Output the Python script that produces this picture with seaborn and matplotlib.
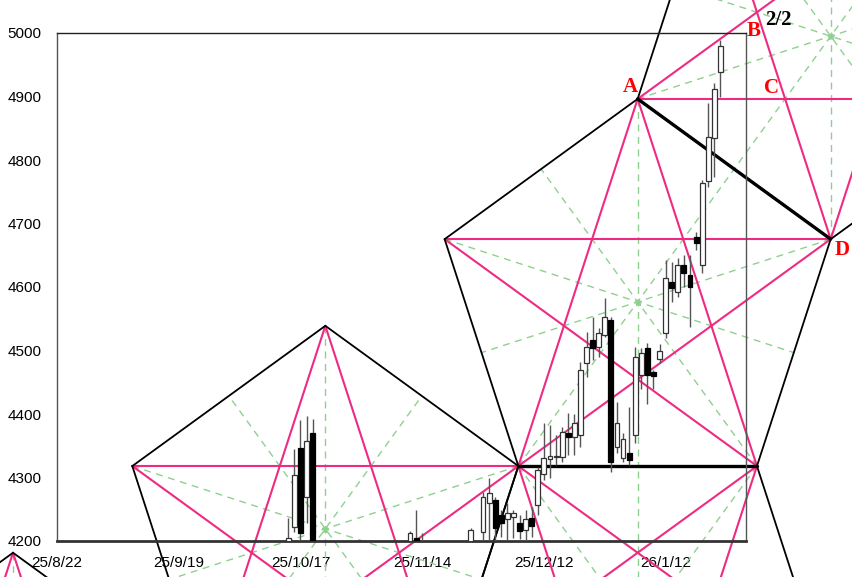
import numpy as np
import pandas as pd
import matplotlib
matplotlib.use("Agg")
import matplotlib.pyplot as plt
import seaborn as sns

# daily candles (bar index from 25/8/22), only the ones above 4200 show
bars   = [38, 39, 40, 41, 42, 58, 59, 60, 68, 70, 71, 72, 73, 74, 75, 76, 77, 78,
          79, 80, 81, 82, 83, 84, 85, 86, 87, 88, 89, 90, 91, 92, 93, 94, 95, 96,
          97, 98, 99, 100, 101, 102, 103, 104, 105, 106, 107, 108, 109]
opens  = [4198, 4222, 4346, 4269, 4370, 4195, 4205, 4195, 4198, 4214, 4260, 4265, 4241, 4235, 4238, 4228, 4217, 4236,
          4257, 4305, 4329, 4332, 4333, 4370, 4364, 4367, 4480, 4517, 4506, 4524, 4548, 4348, 4331, 4339, 4367, 4461,
          4504, 4466, 4487, 4528, 4608, 4592, 4635, 4619, 4679, 4635, 4767, 4835, 4939]
highs  = [4236, 4345, 4391, 4397, 4392, 4215, 4249, 4213, 4220, 4277, 4299, 4270, 4249, 4260, 4249, 4241, 4249, 4254,
          4317, 4386, 4383, 4367, 4380, 4402, 4400, 4482, 4529, 4553, 4535, 4583, 4553, 4419, 4370, 4411, 4506, 4504,
          4512, 4470, 4510, 4643, 4639, 4645, 4650, 4650, 4687, 4768, 4890, 4921, 4989]
lows   = [4190, 4214, 4190, 4228, 4175, 4190, 4190, 4185, 4190, 4195, 4202, 4195, 4206, 4202, 4205, 4203, 4200, 4206,
          4241, 4296, 4300, 4320, 4325, 4335, 4335, 4348, 4458, 4485, 4490, 4521, 4309, 4339, 4325, 4320, 4354, 4440,
          4415, 4440, 4480, 4520, 4576, 4585, 4600, 4537, 4658, 4622, 4757, 4773, 4899]
closes = [4205, 4304, 4213, 4358, 4185, 4213, 4198, 4190, 4217, 4269, 4275, 4220, 4228, 4244, 4244, 4216, 4235, 4224,
          4312, 4331, 4334, 4334, 4372, 4364, 4386, 4469, 4506, 4504, 4528, 4553, 4324, 4386, 4361, 4328, 4490, 4496,
          4461, 4460, 4499, 4614, 4598, 4635, 4622, 4600, 4670, 4764, 4836, 4912, 4980]

tick_bars = [0, 20, 40, 60, 80, 100]
tick_labels = ['25/8/22', '25/9/19', '25/10/17', '25/11/14', '25/12/12', '26/1/12']

# base edge of the main pentagon: (bar, price) of its two bottom corners
base_x = [75.8, 115.0]
base_y = [4318, 4318]

label_names = ['A', 'B', 'C', 'D']
label_x = [94.2, 114.4, 117.4, 129.0]
label_y = [4915, 5003, 4913, 4658]
page_label = '2/2'
page_xy = (118.6, 5021)

df = pd.DataFrame({'bar': bars, 'open': opens, 'high': highs, 'low': lows, 'close': closes})
df['up'] = df['close'] >= df['open']

sns.set_style('white')
plt.rcParams['font.family'] = ['Liberation Sans', 'DejaVu Sans']

fig = plt.figure(figsize=(8.52, 5.77), dpi=100)
ax = fig.add_axes([57 / 852, 36 / 577, 689 / 852, 508 / 577])
ax.set_xlim(0, 113.2)
ax.set_ylim(4200, 5000)

# --- pentagon construction (regular in screen space) ---
def rot(v, deg):
    a = np.radians(deg)
    return np.array([v[0] * np.cos(a) - v[1] * np.sin(a), v[0] * np.sin(a) + v[1] * np.cos(a)])

def pentagon(p, q):
    pts = [np.asarray(p, float), np.asarray(q, float)]
    d = pts[1] - pts[0]
    for _ in range(3):
        d = rot(d, 72)
        pts.append(pts[-1] + d)
    return np.array(pts)

to_data = ax.transData.inverted().transform
base = ax.transData.transform(np.column_stack([base_x, base_y]))

p2 = pentagon(base[0], base[1])        # BL, BR, D, A, L
p4 = pentagon(base[1], base[0])        # mirrored below
p3 = pentagon(p2[3], p2[2])            # on the A-D edge
p1 = pentagon(p4[2], base[0])          # left figure
p0 = p1 + (p1[4] - p1[1])              # lower-left figure
shapes = [p0, p1, p2, p3, p4]

pink = '#ef2a82'
green = '#8fd08f'

def seg(a, b, **kw):
    xy = to_data(np.array([a, b]))
    ax.plot(xy[:, 0], xy[:, 1], clip_on=False, solid_capstyle='round', **kw)

for P in shapes:
    c = P.mean(axis=0)
    for i in range(5):
        mid = (P[(i + 2) % 5] + P[(i + 3) % 5]) / 2
        seg(P[i], mid, color=green, lw=1, ls=(0, (5, 4)), zorder=1.5)
    cd = to_data(c[None, :])[0]
    ax.plot(cd[0], cd[1], marker='*', ms=5, color=green, clip_on=False, zorder=1.6)
for P in shapes:
    for i in range(5):
        seg(P[i], P[(i + 2) % 5], color=pink, lw=1.5, zorder=2)
for P in shapes:
    for i in range(5):
        seg(P[i], P[(i + 1) % 5], color='black', lw=1.3, zorder=2.2)
seg(p2[0], p2[1], color='black', lw=2.4, zorder=2.3)
seg(p2[2], p2[3], color='black', lw=2.4, zorder=2.3)

# --- candles ---
ax.vlines(df['bar'], df['low'], df['high'], color='#555555', lw=1, zorder=3)
body_lo = df[['open', 'close']].min(axis=1)
body_h = (df['close'] - df['open']).abs().clip(lower=1.5)
up = df['up']
ax.bar(df['bar'][up], body_h[up], bottom=body_lo[up], width=0.8,
       facecolor='white', edgecolor='#333333', lw=0.9, zorder=3.2)
ax.bar(df['bar'][~up], body_h[~up], bottom=body_lo[~up], width=0.8,
       facecolor='black', edgecolor='black', lw=0.9, zorder=3.2)

# --- labels ---
for name, x, y in zip(label_names, label_x, label_y):
    ax.text(x, y, name, color='red', fontsize=15, fontweight='bold', family=['Liberation Serif'],
            ha='center', va='center', clip_on=False, zorder=5)
ax.text(page_xy[0], page_xy[1], page_label, color='black', fontsize=15, fontweight='bold',
        family=['Liberation Serif'], ha='center', va='center', clip_on=False, zorder=5)

# --- axes ---
ax.set_yticks(np.arange(4200, 5001, 100))
ax.set_xticks(tick_bars)
ax.set_xticklabels(tick_labels)
ax.tick_params(direction='in', length=4, width=1, color='#555555', labelsize=11, pad=11,
               labelcolor='black')
for side in ['left', 'right', 'top']:
    ax.spines[side].set_color('#555555')
    ax.spines[side].set_linewidth(1)
ax.spines['top'].set_color('#222222')
ax.spines['bottom'].set_color('#333333')
ax.spines['bottom'].set_linewidth(2)
ax.set_facecolor('none')
ax.grid(False)

fig.savefig('out.png', dpi=100)
